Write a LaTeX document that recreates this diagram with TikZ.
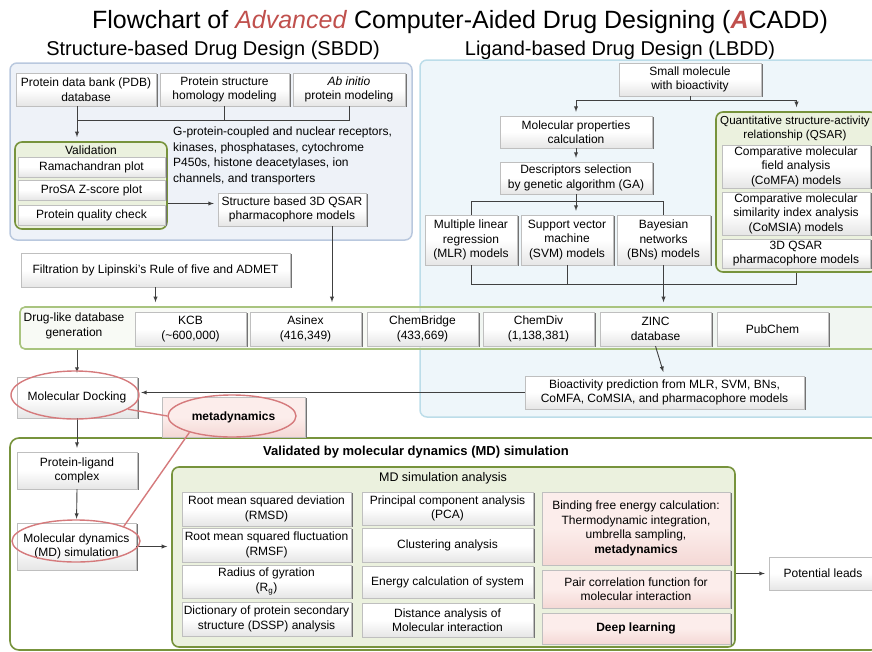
\documentclass[tikz,border=0pt]{standalone}
\usepackage{fontspec}
\setmainfont{Liberation Sans}
\usetikzlibrary{shadows}
\usetikzlibrary{shapes.geometric}

\definecolor{titlered}{HTML}{C0504D}
\definecolor{sbfill}{HTML}{EEF2F8}
\definecolor{sbline}{HTML}{B9C8DE}
\definecolor{lbfill}{HTML}{EEF6FA}
\definecolor{lbline}{HTML}{BCDDE9}
\definecolor{grpline}{HTML}{77933C}
\definecolor{grpfill}{HTML}{EBF1DE}
\definecolor{barfill}{HTML}{F3F6EE}
\definecolor{barline}{HTML}{A9C47F}
\definecolor{pinkA}{HTML}{FCEDEB}
\definecolor{pinkB}{HTML}{F4D8D5}
\definecolor{ringred}{HTML}{D57A7C}

\begin{document}
\begin{tikzpicture}[
        x=1pt, y=-1pt, >=latex,
        sz/.style n args={2}{minimum width=#1pt, minimum height=#2pt},
        box/.style={draw=gray!50, top color=white, bottom color=gray!20, middle color=white,
            general shadow={shadow xshift=2pt, shadow yshift=-1pt, fill=black!55},
            align=center, inner sep=0.5pt, font=\fontsize{12}{14.5}\selectfont},
        pbox/.style={box, top color=pinkA, bottom color=pinkB, middle color=pinkA},
        grp/.style={draw=grpline, line width=1.6pt, fill=grpfill, rounded corners=7pt},
        ring/.style={ellipse, draw=ringred, line width=1.4pt},
        txt/.style={align=center, inner sep=0pt, font=\fontsize{12}{14.5}\selectfont},
        ln/.style={draw=black!75, line width=0.9pt},
        arr/.style={ln, ->, shorten >=4pt},
    ]
    \useasboundingbox (0,0) rectangle (872,651);

    % titles
    \node[font=\fontsize{25}{28}\selectfont] (title) at (460,22)
        {Flowchart of \textcolor{titlered}{\textit{Advanced}} Computer-Aided Drug Designing
         (\textcolor{titlered}{\textbf{\textit{A}}}CADD)};
    \node[font=\fontsize{20}{22}\selectfont] (sbddtitle) at (213,50) {Structure-based Drug Design (SBDD)};
    \node[font=\fontsize{20}{22}\selectfont] (lbddtitle) at (620,50) {Ligand-based Drug Design (LBDD)};

    % panels
    \node[draw=sbline, fill=sbfill, line width=1.5pt, rounded corners=7pt, sz={402}{177}] (sbdd) at (211,151.5) {};
    \node[draw=lbline, fill=lbfill, line width=1.5pt, rounded corners=7pt, sz={470}{357}] (lbdd) at (655,238.5) {};
    \node[draw=barline, fill=barfill, fill opacity=0.6, line width=1.6pt, rounded corners=5pt, sz={865}{42}] (drug) at (452.5,328) {};
    \node[draw=grpline, fill=white, line width=1.6pt, rounded corners=9pt, sz={870}{212}] (mdframe) at (445,544) {};

    % SBDD
    \node[box, sz={140}{33}] (pdb) at (86,89.5) {Protein data bank (PDB)\\database};
    \node[box, sz={129}{33}] (homol) at (224.5,89.5) {Protein structure\\homology modeling};
    \node[box, sz={112}{33}] (abinit) at (349,89.5) {\textit{Ab initio}\\protein modeling};

    \node[grp, sz={152}{87}] (valid) at (91,185.5) {};
    \node[txt] (validlbl) at (91,150) {Validation};
    \node[box, sz={147}{20}] (rama) at (91.5,167) {Ramachandran plot};
    \node[box, sz={147}{20}] (prosa) at (91.5,190) {ProSA Z-score plot};
    \node[box, sz={147}{20}] (quality) at (91.5,215) {Protein quality check};

    \node[txt, anchor=north west, align=left, font=\fontsize{12}{15.4}\selectfont] (gpcr) at (173,127)
        {G-protein-coupled and nuclear receptors,\\kinases, phosphatases, cytochrome\\
         P450s, histone deacetylases, ion\\channels, and transporters};
    \node[box, sz={148}{33}] (sbqsar) at (292,209.5) {Structure based 3D QSAR\\pharmacophore models};

    \coordinate (sbus) at (77,120);
    \draw[arr] (pdb.south -| sbus) -- (valid.north -| sbus);
    \draw[ln] (homol.south) |- (sbus);
    \draw[ln] (abinit.south) |- (sbus);
    \coordinate (qin) at ([yshift=6]sbqsar.west);
    \draw[arr] (qin -| valid.east) -- (qin);

    % LBDD
    \node[box, sz={142}{33}] (small) at (690,79.5) {Small molecule\\with bioactivity};
    \node[box, sz={152}{32}] (molprop) at (576,132) {Molecular properties\\calculation};
    \node[box, sz={152}{32}] (desc) at (576,178) {Descriptors selection\\by genetic algorithm (GA)};
    \node[box, sz={92}{50}] (mlr) at (471,240) {Multiple linear\\regression\\(MLR) models};
    \node[box, sz={92}{50}] (svm) at (567,240) {Support vector\\machine\\(SVM) models};
    \node[box, sz={93}{50}] (bns) at (663.5,240) {Bayesian\\networks\\(BNs) models};

    \node[grp, sz={161}{160}] (qsar) at (796.5,192) {};
    \node[txt, font=\fontsize{11.6}{14.5}\selectfont] (qsarlbl) at (795,128.5) {Quantitative structure-activity\\relationship (QSAR)};
    \node[box, sz={148}{43}] (comfa) at (796,166.5) {Comparative molecular\\field analysis\\(CoMFA) models};
    \node[box, sz={148}{43}] (comsia) at (796,213.5) {Comparative molecular\\similarity index analysis\\(CoMSIA) models};
    \node[box, sz={148}{29}] (qsar3d) at (796,253.5) {3D QSAR\\pharmacophore models};

    \coordinate (topbus) at (690,100);
    \draw[ln] (small.south) -- (topbus);
    \draw[arr] (topbus) -| (molprop.north);
    \draw[arr] (topbus) -| (qsar.north);
    \draw[arr] (molprop.south) -- (desc.north);
    \coordinate (midbus) at (576,201);
    \draw[ln] (desc.south) -- (midbus);
    \draw[ln] (midbus) -| (mlr.north);
    \draw[ln] (midbus) -| (bns.north);
    \draw[arr] (midbus) -- (midbus |- svm.north);
    \coordinate (lowbus) at (663.5,284);
    \draw[ln] (mlr.south) |- (lowbus);
    \draw[ln] (svm.south) -- (svm.south |- lowbus);
    \draw[ln] (qsar.south) |- (lowbus);
    \draw[arr] (bns.south) -- (bns.south |- drug.north);

    % drug-like databases
    \node[box, sz={269}{34}] (filt) at (155.5,270) {Filtration by Lipinski's Rule of five and ADMET};
    \node[txt] (druglbl) at (74,326) {Drug-like database\\generation};
    \foreach \nm/\cx/\tx in {kcb/190.5/{KCB\\(\textasciitilde600,000)}, asinex/305.5/{Asinex\\(416,349)},
            chembridge/422.5/{ChemBridge\\(433,669)}, chemdiv/538.5/{ChemDiv\\(1,138,381)},
            zinc/655.5/{ZINC\\database}, pubchem/772.5/{PubChem}}
        \node[box, sz={111}{34}] (\nm) at (\cx,329) {\tx};

    \coordinate (sbdrop) at ([xshift=40]sbqsar.south);
    \draw[arr] (sbdrop) -- (sbdrop |- drug.north);
    \draw[arr] (filt.south) -- (filt.south |- drug.north);

    \node[box, sz={279}{33}] (bioact) at (664.5,392.5)
        {Bioactivity prediction from MLR, SVM, BNs,\\CoMFA, CoMSIA, and pharmacophore models};
    \draw[arr] (zinc.south) -- (bioact.north);

    % docking and MD
    \node[box, sz={120}{41}] (dock) at (77,397.5) {Molecular Docking};
    \node[pbox, sz={143}{40}] (metad) at (233.5,417) {\textbf{metadynamics}};
    \draw[arr] (bioact.west) -- (bioact.west -| dock.east);
    \draw[arr] (dock.north |- drug.south) -- (dock.north);

    \node[font=\bfseries\fontsize{13}{16}\selectfont] (mdtitle) at (416,452)
        {Validated by molecular dynamics (MD) simulation};
    \node[box, sz={120}{37}] (complex) at (77,470.5) {Protein-ligand\\complex};
    \node[box, sz={119}{47}] (mdsim) at (76.5,546.5) {Molecular dynamics\\(MD) simulation};
    \draw[arr] (dock.south) -- (complex.north);
    \draw[arr] (complex.south) -- (mdsim.north);

    \node[grp, sz={563}{180}] (anal) at (453.5,557) {};
    \node[txt, font=\fontsize{12.5}{15}\selectfont] (anallbl) at (443,478) {MD simulation analysis};

    \node[box, sz={169}{34}] (rmsd) at (266.5,509) {Root mean squared deviation\\(RMSD)};
    \node[box, sz={169}{34}] (rmsf) at (266.5,545) {Root mean squared fluctuation\\(RMSF)};
    \node[box, sz={169}{33}] (rg) at (266.5,581.5) {Radius of gyration\\(R\textsubscript{g})};
    \node[box, sz={169}{34}] (dssp) at (266.5,619) {Dictionary of protein secondary\\structure (DSSP) analysis};

    \node[box, sz={171}{33}] (pca) at (447.5,508.5) {Principal component analysis\\(PCA)};
    \node[box, sz={171}{34}] (clust) at (447.5,545) {Clustering analysis};
    \node[box, sz={171}{32}] (energy) at (447.5,582) {Energy calculation of system};
    \node[box, sz={171}{34}] (dist) at (447.5,620) {Distance analysis of\\Molecular interaction};

    \node[pbox, sz={188}{73}] (bind) at (636,528.5)
        {Binding free energy calculation:\\Thermodynamic integration,\\umbrella sampling,\\\textbf{metadynamics}};
    \node[pbox, sz={188}{38}] (pair) at (636,589) {Pair correlation function for\\molecular interaction};
    \node[pbox, sz={188}{31}] (deep) at (636,628.5) {\textbf{Deep learning}};

    \node[box, sz={108}{33}] (leads) at (823,573.5) {Potential leads};
    \draw[arr] (mdsim.east) -- (mdsim.east -| anal.west);
    \draw[arr] (anal.east |- leads.west) -- (leads.west);

    % highlight rings
    \node[ring, sz={128}{48}] (dockring) at (75,395) {};
    \node[ring, sz={128}{42}] (metring) at (232,416) {};
    \node[ring, sz={128}{42}] (mdring) at (76,541) {};
    \draw[ringred, line width=1.4pt] (dockring.-15) -- (metring.180);
    \draw[ringred, line width=1.4pt] (metring.201) -- (mdring.17);

\end{tikzpicture}
\end{document}
